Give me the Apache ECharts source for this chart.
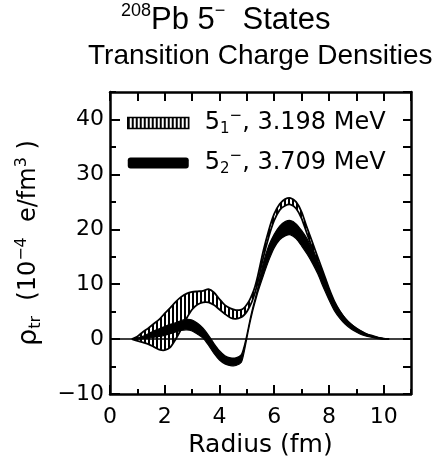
<!DOCTYPE html>
<html><head><meta charset="utf-8">
<script src="https://cdn.jsdelivr.net/npm/echarts@6/dist/echarts.min.js"></script>
<style>html,body{margin:0;padding:0;background:#fff}#c{width:438px;height:463px}</style>
</head><body><div id="c"></div>
<script>
const radius = [0.8,1.0,1.2,1.4,1.6,1.8,2.0,2.2,2.4,2.6,2.8,3.0,3.2,3.4,3.6,3.8,4.0,4.2,4.4,4.6,4.8,4.9,5.0,5.1,5.2,5.3,5.4,5.6,5.8,6.0,6.2,6.4,6.6,6.8,7.0,7.2,7.4,7.6,7.8,8.0,8.2,8.4,8.6,8.8,9.0,9.2,9.4,9.6,9.8,10.0,10.2];
// 5-1 state (hatched band)
const hatchUpper = [0,0.5,1.3,2.0,2.8,3.6,4.7,5.7,6.8,7.7,8.3,8.6,8.7,8.8,9.1,8.5,7.3,6.2,5.6,5.3,5.4,5.7,6.3,7.1,8.2,9.6,11.5,16.0,19.8,22.8,24.6,25.5,25.7,25.0,23.2,20.3,17.6,14.8,12.1,9.3,6.9,5.1,3.7,2.7,2.0,1.4,0.9,0.6,0.3,0.1,0];
const hatchLower = [0,-0.3,-0.6,-0.9,-1.4,-1.9,-2.0,-1.5,0.0,1.8,3.8,5.4,6.3,6.7,6.7,6.2,5.4,4.6,3.9,3.7,4.0,4.4,5.0,5.9,7.0,8.5,10.3,14.8,18.6,21.6,23.5,24.3,24.5,23.8,22.0,19.2,16.5,13.8,11.1,8.5,6.3,4.6,3.3,2.4,1.7,1.2,0.8,0.5,0.25,0.05,0];
// 5-2 state (solid band)
const solidUpper = [0,0.2,0.5,1.0,1.5,1.9,2.3,2.7,3.0,3.4,3.6,3.5,2.9,2.0,0.7,-0.8,-2.1,-3.0,-3.4,-3.4,-2.8,-1.3,0.8,3.2,5.4,7.3,9.3,13.8,17.0,19.1,20.6,21.4,21.6,21.0,19.8,18.3,16.3,14.1,11.7,9.1,6.8,5.1,3.8,2.8,2.0,1.4,0.9,0.5,0.3,0.1,0];
const solidLower = [0,0,0.1,0.2,0.35,0.5,0.7,1.0,1.3,1.6,1.7,1.5,0.9,0.2,-1.1,-2.6,-3.8,-4.5,-4.8,-4.8,-4.2,-2.4,0.1,2.6,4.8,6.7,8.5,11.5,14.3,16.6,18.1,18.8,19.0,18.3,17.0,15.5,13.8,11.8,9.4,7.2,5.2,3.8,2.7,1.9,1.3,0.8,0.5,0.3,0.1,0.0,0];
const xTickLabels = [0,2,4,6,8,10];
const yTickLabels = [-10,0,10,20,30,40];
const seriesNames = ['5\u2081\u207B, 3.198 MeV','5\u2082\u207B, 3.709 MeV'];
const legendLabels = [['1','3.198 MeV'],['2','3.709 MeV']];

const FONT = 'DejaVu Sans';
function hatchPattern(){
  const c=document.createElement('canvas'); c.width=4; c.height=6;
  const g=c.getContext('2d'); g.fillStyle='#fff'; g.fillRect(0,0,4,6);
  g.fillStyle='#000'; g.fillRect(0,0,2,6);
  return c;
}
const pat = hatchPattern();

function bandRenderer(upper, lower, fill, edgeWidth){
  return function(params, api){
    const up = radius.map((r,i)=>api.coord([r, upper[i]]));
    const lo = radius.map((r,i)=>api.coord([r, lower[i]]));
    const poly = up.concat(lo.slice().reverse());
    return {type:'group', children:[
      {type:'polygon', shape:{points:poly, smooth:0.25}, style:{fill:fill, stroke:null}},
      {type:'polyline', shape:{points:up, smooth:0.25}, style:{fill:null, stroke:'#000', lineWidth:edgeWidth}},
      {type:'polyline', shape:{points:lo, smooth:0.25}, style:{fill:null, stroke:'#000', lineWidth:edgeWidth}}
    ]};
  };
}

const chart = echarts.init(document.getElementById('c'));
const tickStyle = {color:'#000', width:2};
const baseX = {type:'value', min:0, max:11, splitLine:{show:false}};
const baseY = {type:'value', min:-10, max:45, splitLine:{show:false}};
const tFont = {fontFamily:'Liberation Sans', fontWeight:'normal', color:'#000'};
chart.setOption({
  animation:false,
  backgroundColor:'#fff',
  title:[
    {text:'{sup|208}{m|Pb 5}{sup|\u2212}{m|  States}', left:121, top:2, padding:0,
     textStyle:{fontWeight:'normal', rich:{
       m:Object.assign({fontSize:31, lineHeight:36}, tFont),
       sup:Object.assign({fontSize:18, lineHeight:18, verticalAlign:'top'}, tFont)}}},
    {text:'Transition Charge Densities', left:88, top:42, padding:0,
     textStyle:Object.assign({fontSize:28}, tFont)}
  ],
  legend:{
    orient:'vertical', left:127, top:109, padding:0, itemWidth:61, itemHeight:11, itemGap:12,
    selectedMode:false,
    data:[
      {name:seriesNames[0], icon:'rect', itemStyle:{color:{image:pat, repeat:'repeat'}, borderColor:'#000', borderWidth:1.5}},
      {name:seriesNames[1], icon:'roundRect', itemStyle:{color:'#000', borderWidth:0}}
    ],
    formatter: name => {
      const k = seriesNames.indexOf(name);
      return '{n0|5}{sb|'+legendLabels[k][0]+'}{sp|\u2212}{n|, '+legendLabels[k][1]+'}';
    },
    textStyle:{rich:{
      n0:{fontSize:24, lineHeight:28, fontFamily:FONT, color:'#000', padding:[0,0,0,11]},
      n:{fontSize:24, lineHeight:28, fontFamily:FONT, color:'#000'},
      sb:{fontSize:15, lineHeight:14, verticalAlign:'bottom', fontFamily:FONT, color:'#000'},
      sp:{fontSize:15, lineHeight:14, verticalAlign:'top', fontFamily:FONT, color:'#000'}
    }}
  },
  grid:{left:110, right:27, top:92, bottom:65.5, containLabel:false},
  xAxis:[
    Object.assign({}, baseX, {position:'bottom', interval:2,
      name:'Radius (fm)', nameLocation:'middle', nameGap:38,
      nameTextStyle:{fontSize:25, fontFamily:FONT, color:'#000'},
      axisLine:{show:true, onZero:false, lineStyle:{color:'#000', width:2.5}},
      axisTick:{show:true, inside:true, length:9, lineStyle:tickStyle},
      axisLabel:{show:true, margin:12, fontSize:22, fontFamily:FONT, color:'#000', showMaxLabel:false,
        formatter: v => xTickLabels.includes(v) ? String(v) : ''}}),
    Object.assign({}, baseX, {position:'bottom', interval:1,
      axisLine:{show:false, onZero:false}, axisTick:{show:true, inside:true, length:5, lineStyle:tickStyle}, axisLabel:{show:false}}),
    Object.assign({}, baseX, {position:'top', interval:1,
      axisLine:{show:true, onZero:false, lineStyle:{color:'#000', width:2.5}},
      axisTick:{show:true, inside:true, length:9, lineStyle:tickStyle}, axisLabel:{show:false}})
  ],
  yAxis:[
    Object.assign({}, baseY, {position:'left', interval:10,
      name:'{rho|\u03C1}{sb|tr}{m|  (10}{sp|\u22124}{m|  e/fm}{sp|3}{m| )}', nameLocation:'middle', nameGap:66,
      nameTextStyle:{rich:{
        rho:{fontSize:27, lineHeight:30, fontFamily:FONT, color:'#000'},
        m:{fontSize:24, lineHeight:30, fontFamily:FONT, color:'#000'},
        sb:{fontSize:16, lineHeight:15, verticalAlign:'bottom', fontFamily:FONT, color:'#000'},
        sp:{fontSize:16, lineHeight:15, verticalAlign:'top', fontFamily:FONT, color:'#000'}}},
      axisLine:{show:true, onZero:false, lineStyle:{color:'#000', width:2.5}},
      axisTick:{show:true, inside:true, length:10, lineStyle:tickStyle},
      axisLabel:{show:true, margin:6, fontSize:22, fontFamily:FONT, color:'#000', showMaxLabel:false,
        formatter: v => yTickLabels.includes(v) ? String(v).replace('-','\u2212') : ''}}),
    Object.assign({}, baseY, {position:'left', interval:5,
      axisLine:{show:false, onZero:false}, axisTick:{show:true, inside:true, length:6, lineStyle:tickStyle}, axisLabel:{show:false}}),
    Object.assign({}, baseY, {position:'right', interval:5,
      axisLine:{show:true, onZero:false, lineStyle:{color:'#000', width:2.5}},
      axisTick:{show:true, inside:true, length:8, lineStyle:tickStyle}, axisLabel:{show:false}})
  ],
  series:[
    {name:seriesNames[0], type:'custom', coordinateSystem:'cartesian2d', clip:true,
     itemStyle:{color:'#888'}, data:[[radius[0], hatchUpper[0]]], encode:{x:0, y:1},
     renderItem: bandRenderer(hatchUpper, hatchLower, {image:pat, repeat:'repeat'}, 1.8)},
    {name:seriesNames[1], type:'custom', coordinateSystem:'cartesian2d', clip:true,
     itemStyle:{color:'#000'}, data:[[radius[0], solidUpper[0]]], encode:{x:0, y:1},
     renderItem: bandRenderer(solidUpper, solidLower, '#000', 1.2),
     markLine:{silent:true, symbol:'none', label:{show:false}, lineStyle:{color:'#000', width:1.5, type:'solid'},
       data:[{yAxis:0}]}}
  ]
});
</script></body></html>
